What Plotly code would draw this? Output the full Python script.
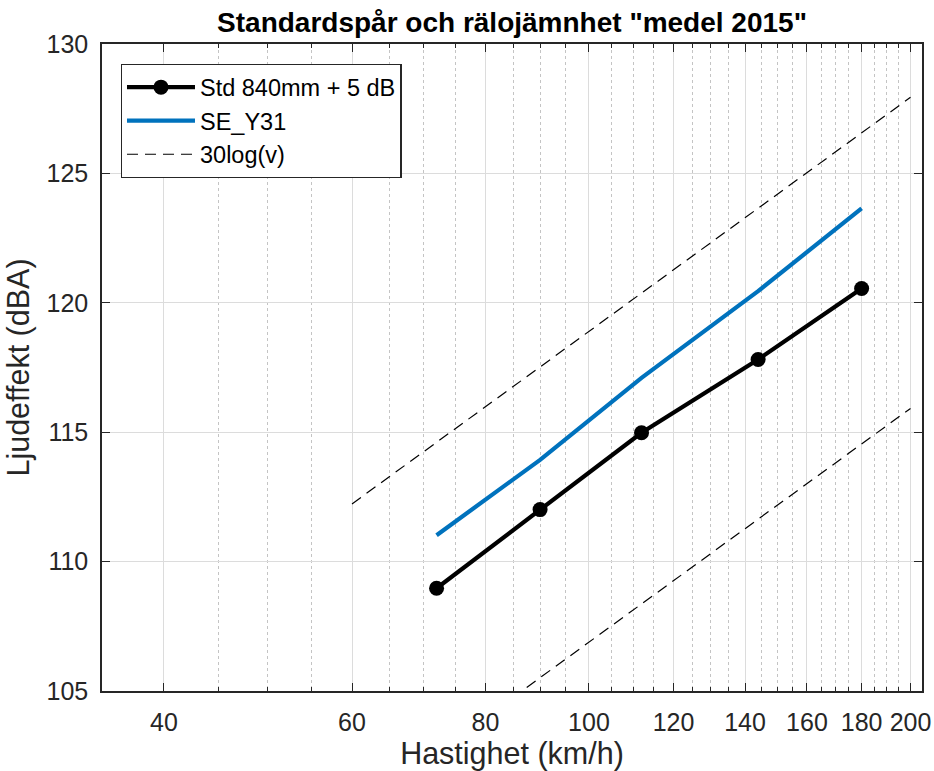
import plotly.graph_objects as go

# Data
speed = [72, 90, 112, 144, 180]
std_840 = [108.97, 112.01, 114.98, 117.81, 120.55]
se_y31 = [111.02, 113.93, 117.10, 120.45, 123.65]

ref_speed = [60, 200]
ref_upper = [112.23, 127.94]
ref_lower = [100.23, 115.92]

x_tickvals = [40, 60, 80, 100, 120, 140, 160, 180, 200]
x_minorvals = [v for v in range(35, 206, 5) if v not in x_tickvals]
y_tickvals = [105, 110, 115, 120, 125, 130]

FONT = "Liberation Sans, Arial, sans-serif"
AX = "#262626"

fig = go.Figure()
fig.add_trace(go.Scatter(
    x=speed, y=std_840, mode="lines+markers", name="Std 840mm + 5 dB",
    line=dict(color="black", width=4.2), marker=dict(color="black", size=15)))
fig.add_trace(go.Scatter(
    x=speed, y=se_y31, mode="lines", name="SE_Y31",
    line=dict(color="#0072BD", width=4.2)))
fig.add_trace(go.Scatter(
    x=ref_speed, y=ref_upper, mode="lines", name="30log(v)",
    line=dict(color="black", width=1.2, dash="11px,7px")))
fig.add_trace(go.Scatter(
    x=ref_speed, y=ref_lower, mode="lines", name="30log(v)", showlegend=False,
    line=dict(color="black", width=1.2, dash="11px,7px")))

fig.update_layout(
    width=934, height=771,
    margin=dict(l=102, r=12, t=44, b=80),
    paper_bgcolor="white", plot_bgcolor="white",
    font=dict(family=FONT, size=25, color=AX),
    title=dict(text="<b>Standardspår och rälojämnhet \"medel 2015\"</b>",
               x=0.5, xanchor="center", xref="paper",
               y=1 - 22 / 771, yref="container", yanchor="middle",
               font=dict(family=FONT, size=28, color="black")),
    showlegend=True,
    legend=dict(x=0.0228, y=0.969, xanchor="left", yanchor="top",
                bgcolor="white", bordercolor=AX, borderwidth=1.3,
                font=dict(family=FONT, size=23.5, color="black"),
                itemwidth=68, tracegroupgap=0),
)

fig.update_xaxes(
    type="log", range=[1.5441, 2.3118], automargin=False,
    tickmode="array", tickvals=x_tickvals, ticktext=[str(v) for v in x_tickvals],
    ticks="inside", ticklen=8, tickwidth=1.3, tickcolor=AX,
    showline=True, linecolor=AX, linewidth=1.5, mirror="allticks",
    showgrid=True, gridcolor="#dcdcdc", gridwidth=1,
    minor=dict(tickmode="array", tickvals=x_minorvals, ticks="inside",
               ticklen=4, tickwidth=1, tickcolor=AX,
               showgrid=True, gridcolor="#c4c4c4", griddash="dot", gridwidth=1),
    ticklabelstandoff=8,
    title=dict(text="Hastighet (km/h)", font=dict(family=FONT, size=30.5, color=AX),
               standoff=6),
    zeroline=False,
)
fig.update_yaxes(
    range=[105, 130], tickmode="array", tickvals=y_tickvals, automargin=False,
    ticks="inside", ticklen=8, tickwidth=1.3, tickcolor=AX,
    showline=True, linecolor=AX, linewidth=1.5, mirror="allticks",
    showgrid=True, gridcolor="#dcdcdc", gridwidth=1,
    ticklabelstandoff=7,
    title=dict(text="Ljudeffekt (dBA)", font=dict(family=FONT, size=30.5, color=AX),
               standoff=8),
    zeroline=False,
)

fig.write_html("out.html")
